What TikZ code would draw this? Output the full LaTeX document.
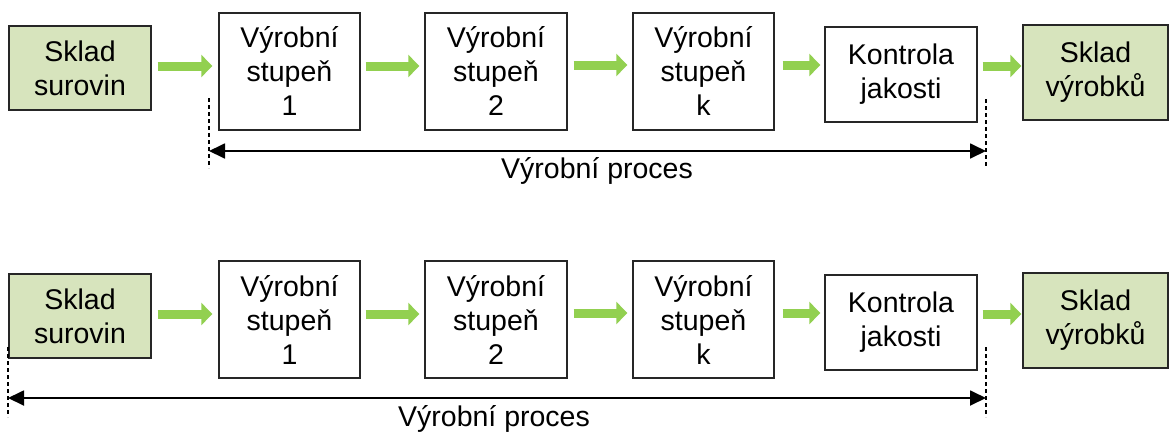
\documentclass[tikz,border=0pt]{standalone}
\usepackage{fontspec}
\setmainfont{Liberation Sans}
\usetikzlibrary{arrows.meta}
\definecolor{boxgreen}{HTML}{D7E4BD}
\definecolor{arrgreen}{HTML}{92D050}
\tikzset{
  txt/.style={font=\fontsize{28.5}{34}\selectfont, align=center},
  stepbox/.style={txt, draw=black!85, line width=1.4pt, inner sep=0pt, fill=white},
  storebox/.style={stepbox, fill=boxgreen},
  garrow/.style={arrgreen, line width=9pt, -{Triangle[length=11pt,width=22pt]}},
  dimline/.style={black, line width=1.8pt, {Triangle[length=16pt,width=15pt]}-{Triangle[length=16pt,width=15pt]}},
  dashline/.style={black, line width=1.4pt, dash pattern=on 4pt off 3pt},
  lbl/.style={txt, anchor=base}
}
\begin{document}
\begin{tikzpicture}[x=1pt,y=-1pt]
\useasboundingbox (0,0) rectangle (1170,432);
\foreach \p/\o in {t/0,b/248}{
  \node[storebox, minimum width=142pt, minimum height=84pt] (\p s1) at (80,68+\o) {Sklad\\surovin};
  \node[stepbox, minimum width=141pt, minimum height=117pt] (\p b1) at (289.5,71.5+\o) {Výrobní\\stupeň\\1};
  \node[stepbox, minimum width=142pt, minimum height=117pt] (\p b2) at (496,71.5+\o) {Výrobní\\stupeň\\2};
  \node[stepbox, minimum width=141pt, minimum height=117pt] (\p bk) at (703.5,71.5+\o) {Výrobní\\stupeň\\k};
  \node[stepbox, minimum width=152pt, minimum height=95pt] (\p kj) at (901,74.5+\o) {Kontrola\\jakosti};
  \node[storebox, minimum width=145pt, minimum height=95pt] (\p s2) at (1095.5,72.5+\o) {Sklad\\výrobků};
  \draw[garrow] ([xshift=6pt]\p s1.east |- 0,66+\o) -- ([xshift=-6pt]\p b1.west |- 0,66+\o);
  \draw[garrow] ([xshift=5pt]\p b1.east |- 0,66+\o) -- ([xshift=-5pt]\p b2.west |- 0,66+\o);
  \draw[garrow] ([xshift=6pt]\p b2.east |- 0,65+\o) -- ([xshift=-5pt]\p bk.west |- 0,65+\o);
  \draw[garrow] ([xshift=8pt]\p bk.east |- 0,65+\o) -- ([xshift=-4pt]\p kj.west |- 0,65+\o);
  \draw[garrow] ([xshift=5pt]\p kj.east |- 0,66+\o) -- ([xshift=-1pt]\p s2.west |- 0,66+\o);
}
% top dimension
\coordinate (tL) at (209,151);
\coordinate (tR) at (986,151);
\coordinate (tLa) at (209,98);
\coordinate (tLb) at (209,168);
\coordinate (tRa) at (986,99);
\coordinate (tRb) at (986,168);
\draw[dashline] (tLa) -- (tLb);
\draw[dashline] (tRa) -- (tRb);
\draw[dimline] (tL) -- (tR);
\node[lbl] (tlabel) at (597,178) {Výrobní proces};
% bottom dimension
\coordinate (bL) at (8,398);
\coordinate (bR) at (986,398);
\coordinate (bLa) at (8,347);
\coordinate (bLb) at (8,417);
\coordinate (bRa) at (986,347);
\coordinate (bRb) at (986,417);
\draw[dashline] (bLa) -- (bLb);
\draw[dashline] (bRa) -- (bRb);
\draw[dimline] (bL) -- (bR);
\node[lbl] (blabel) at (494,426) {Výrobní proces};
\end{tikzpicture}
\end{document}
